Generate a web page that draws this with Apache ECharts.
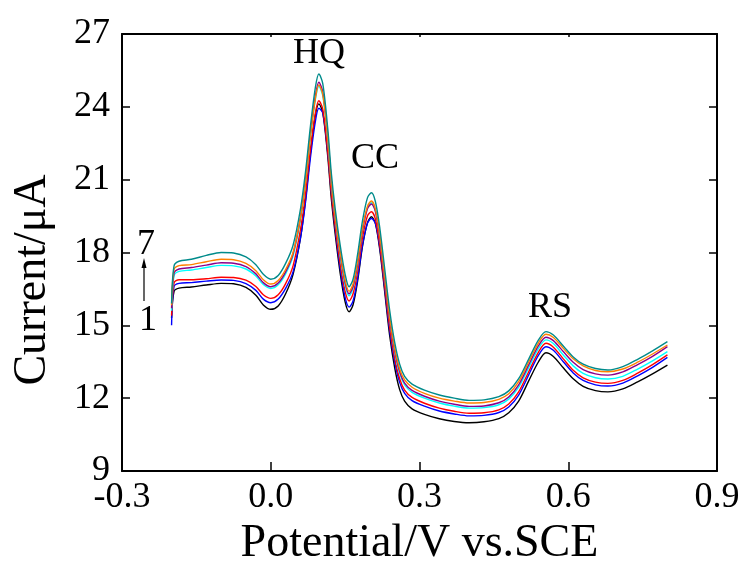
<!DOCTYPE html>
<html>
<head>
<meta charset="utf-8">
<script src="https://cdn.jsdelivr.net/npm/echarts@6/dist/echarts.min.js"></script>
<style>
  html, body { margin: 0; padding: 0; background: #fff; }
  #dpv { width: 744px; height: 563px; }
</style>
</head>
<body>
<div id="dpv"></div>
<script>
// potential (V vs. SCE)
var potential = [-0.2, -0.195, -0.185, -0.16, -0.13, -0.1, -0.075, -0.05, -0.03, -0.015,
  0.0, 0.015, 0.03, 0.045, 0.06, 0.07, 0.08, 0.09, 0.097, 0.105,
  0.115, 0.122, 0.13, 0.14, 0.15, 0.158, 0.166, 0.175, 0.185, 0.195,
  0.203, 0.211, 0.22, 0.23, 0.24, 0.25, 0.26, 0.27, 0.285, 0.31,
  0.34, 0.37, 0.4, 0.43, 0.46, 0.48, 0.5, 0.52, 0.54, 0.555,
  0.57, 0.59, 0.61, 0.63, 0.655, 0.68, 0.71, 0.74, 0.77, 0.8];

// current (uA), curves 1..7
var curve1 = [15.3, 16.4, 16.53, 16.58, 16.66, 16.73, 16.71, 16.56, 16.24, 15.84,
  15.66, 15.8, 16.3, 17.1, 18.6, 20.15, 22.1, 23.65, 24.12, 23.75,
  21.95, 20.25, 18.75, 17.15, 15.97, 15.56, 15.85, 16.8, 18.25, 19.22,
  19.47, 19.2, 18.1, 16.35, 14.55, 13.25, 12.35, 11.88, 11.56, 11.33,
  11.15, 11.04, 10.99, 11.03, 11.16, 11.4, 11.88, 12.7, 13.5, 13.87,
  13.72, 13.25, 12.8, 12.49, 12.31, 12.26, 12.38, 12.67, 13.0, 13.36];
var curve2 = [15.0, 16.6, 16.73, 16.76, 16.82, 16.87, 16.85, 16.72, 16.44, 16.08,
  15.93, 16.08, 16.52, 17.2, 18.6, 20.05, 21.9, 23.4, 23.94, 23.75,
  22.1, 20.5, 18.95, 17.35, 16.15, 15.75, 16.0, 16.9, 18.3, 19.2,
  19.4, 19.2, 18.2, 16.5, 14.75, 13.5, 12.65, 12.2, 11.9, 11.67,
  11.47, 11.35, 11.27, 11.29, 11.41, 11.64, 12.13, 12.95, 13.77, 14.12,
  13.97, 13.5, 13.04, 12.73, 12.55, 12.5, 12.62, 12.92, 13.27, 13.68];
var curve3 = [15.4, 16.75, 16.88, 16.88, 16.92, 16.98, 16.97, 16.86, 16.6, 16.26,
  16.11, 16.26, 16.72, 17.45, 18.95, 20.4, 22.25, 23.75, 24.25, 23.9,
  22.15, 20.5, 19.05, 17.55, 16.4, 16.0, 16.3, 17.2, 18.6, 19.5,
  19.68, 19.38, 18.3, 16.6, 14.9, 13.65, 12.8, 12.33, 12.03, 11.79,
  11.59, 11.46, 11.38, 11.4, 11.52, 11.76, 12.26, 13.08, 13.9, 14.26,
  14.1, 13.62, 13.15, 12.84, 12.66, 12.61, 12.73, 13.03, 13.38, 13.78];
var curve4 = [15.6, 17.05, 17.22, 17.28, 17.38, 17.47, 17.45, 17.32, 17.03, 16.68,
  16.52, 16.67, 17.12, 17.85, 19.35, 20.85, 22.75, 24.3, 24.85, 24.45,
  22.65, 20.9, 19.4, 17.85, 16.65, 16.22, 16.55, 17.45, 18.9, 19.85,
  20.05, 19.72, 18.6, 16.9, 15.2, 13.9, 13.02, 12.55, 12.24, 12.0,
  11.8, 11.67, 11.59, 11.61, 11.73, 11.96, 12.45, 13.25, 14.05, 14.4,
  14.25, 13.78, 13.33, 13.02, 12.84, 12.79, 12.9, 13.2, 13.54, 13.92];
var curve5 = [15.7, 17.15, 17.32, 17.38, 17.48, 17.58, 17.56, 17.42, 17.12, 16.76,
  16.59, 16.74, 17.2, 17.95, 19.45, 20.95, 22.9, 24.45, 25.01, 24.6,
  22.8, 21.0, 19.5, 17.95, 16.75, 16.3, 16.6, 17.5, 18.9, 19.8,
  20.0, 19.7, 18.6, 16.9, 15.2, 13.95, 13.1, 12.62, 12.32, 12.08,
  11.88, 11.75, 11.66, 11.68, 11.81, 12.05, 12.55, 13.36, 14.16, 14.51,
  14.37, 13.92, 13.48, 13.18, 13.0, 12.95, 13.08, 13.38, 13.72, 14.12];
var curve6 = [15.83, 17.3, 17.46, 17.5, 17.62, 17.72, 17.7, 17.55, 17.25, 16.88,
  16.7, 16.85, 17.3, 18.0, 19.45, 20.9, 22.8, 24.35, 24.9, 24.5,
  22.7, 21.0, 19.5, 18.0, 16.85, 16.4, 16.7, 17.6, 19.0, 19.9,
  20.12, 19.8, 18.7, 17.0, 15.3, 14.05, 13.2, 12.75, 12.45, 12.2,
  12.0, 11.88, 11.8, 11.82, 11.95, 12.18, 12.68, 13.48, 14.28, 14.63,
  14.5, 14.05, 13.62, 13.33, 13.14, 13.09, 13.2, 13.48, 13.82, 14.19];
var curve7 = [15.9, 17.45, 17.64, 17.72, 17.88, 18.0, 17.98, 17.82, 17.5, 17.1,
  16.9, 17.05, 17.55, 18.3, 19.8, 21.3, 23.2, 24.8, 25.35, 24.95,
  23.1, 21.3, 19.8, 18.3, 17.1, 16.59, 16.9, 17.9, 19.3, 20.25,
  20.46, 20.1, 19.0, 17.3, 15.6, 14.3, 13.4, 12.9, 12.58, 12.33,
  12.13, 12.0, 11.91, 11.93, 12.06, 12.3, 12.8, 13.6, 14.4, 14.74,
  14.6, 14.15, 13.7, 13.4, 13.22, 13.16, 13.3, 13.6, 13.95, 14.33];

var curves = [curve1, curve2, curve3, curve4, curve5, curve6, curve7];
var curveColors = ['#000000', '#0000ff', '#ff0000', '#00ffff', '#8b008b', '#ff8000', '#008b8b'];

var xTicks = [-0.3, 0.9, 0.3];   // min, max, step
var yTicks = [9, 27, 3];

var serif = '"Liberation Serif", "Times New Roman", serif';

function pairs(ys) {
    var out = [];
    for (var i = 0; i < potential.length; i++) {
        out.push([potential[i], ys[i]]);
    }
    return out;
}

var chart = echarts.init(document.getElementById('dpv'));

var series = [];
for (var k = 0; k < curves.length; k++) {
    series.push({
        type: 'line',
        name: String(k + 1),
        data: pairs(curves[k]),
        smooth: 0.3,
        showSymbol: false,
        lineStyle: { color: curveColors[k], width: 1.4 },
        animation: false
    });
}

var boxLine = { show: true, onZero: false, lineStyle: { color: '#000', width: 2 } };

chart.setOption({
    animation: false,
    grid: { left: 122, right: 27, top: 34, bottom: 92, containLabel: false, outerBoundsMode: 'none' },
    xAxis: [{
        type: 'value',
        min: xTicks[0], max: xTicks[1], interval: xTicks[2],
        name: 'Potential/V vs.SCE',
        nameLocation: 'middle',
        nameGap: 44,
        nameTextStyle: { fontFamily: serif, fontSize: 46, color: '#000' },
        axisLine: boxLine,
        axisTick: { show: true, inside: true, length: 9, lineStyle: { color: '#000', width: 1.5 } },
        axisLabel: {
            fontFamily: serif, fontSize: 36, color: '#000', margin: 9,
            formatter: function (v) { return v.toFixed(1); }
        },
        splitLine: { show: false }
    }, {
        type: 'value',
        position: 'top',
        min: xTicks[0], max: xTicks[1], interval: xTicks[2],
        axisLine: boxLine,
        axisTick: { show: true, inside: true, length: 3, lineStyle: { color: '#000', width: 1.5 } },
        axisLabel: { show: false },
        splitLine: { show: false }
    }],
    yAxis: [{
        type: 'value',
        min: yTicks[0], max: yTicks[1], interval: yTicks[2],
        name: 'Current/μA',
        nameLocation: 'middle',
        nameGap: 66,
        nameTextStyle: { fontFamily: serif, fontSize: 46, color: '#000', padding: [0, 55, 0, 0] },
        axisLine: boxLine,
        axisTick: { show: true, inside: true, length: 8, lineStyle: { color: '#000', width: 1.5 } },
        axisLabel: { fontFamily: serif, fontSize: 36, color: '#000', margin: 12 },
        splitLine: { show: false }
    }, {
        type: 'value',
        position: 'right',
        min: yTicks[0], max: yTicks[1], interval: yTicks[2],
        axisLine: boxLine,
        axisTick: { show: true, inside: true, length: 8, lineStyle: { color: '#000', width: 1.5 } },
        axisLabel: { show: false },
        splitLine: { show: false }
    }],
    // peak names and the 1 -> 7 arrow
    graphic: [
        { type: 'text', x: 319, y: 54, style: { text: 'HQ', font: '36px ' + serif, fill: '#000', align: 'center', verticalAlign: 'middle' } },
        { type: 'text', x: 375, y: 159, style: { text: 'CC', font: '36px ' + serif, fill: '#000', align: 'center', verticalAlign: 'middle' } },
        { type: 'text', x: 550, y: 308, style: { text: 'RS', font: '36px ' + serif, fill: '#000', align: 'center', verticalAlign: 'middle' } },
        { type: 'text', x: 146, y: 245, style: { text: '7', font: '36px ' + serif, fill: '#000', align: 'center', verticalAlign: 'middle' } },
        { type: 'text', x: 148, y: 321, style: { text: '1', font: '36px ' + serif, fill: '#000', align: 'center', verticalAlign: 'middle' } },
        { type: 'line', shape: { x1: 144, y1: 301, x2: 144, y2: 266 }, style: { stroke: '#000', lineWidth: 1.2 } },
        { type: 'polygon', shape: { points: [[144, 258], [141.5, 268], [146.5, 268]] }, style: { fill: '#000' } }
    ],
    series: series
});
</script>
</body>
</html>
